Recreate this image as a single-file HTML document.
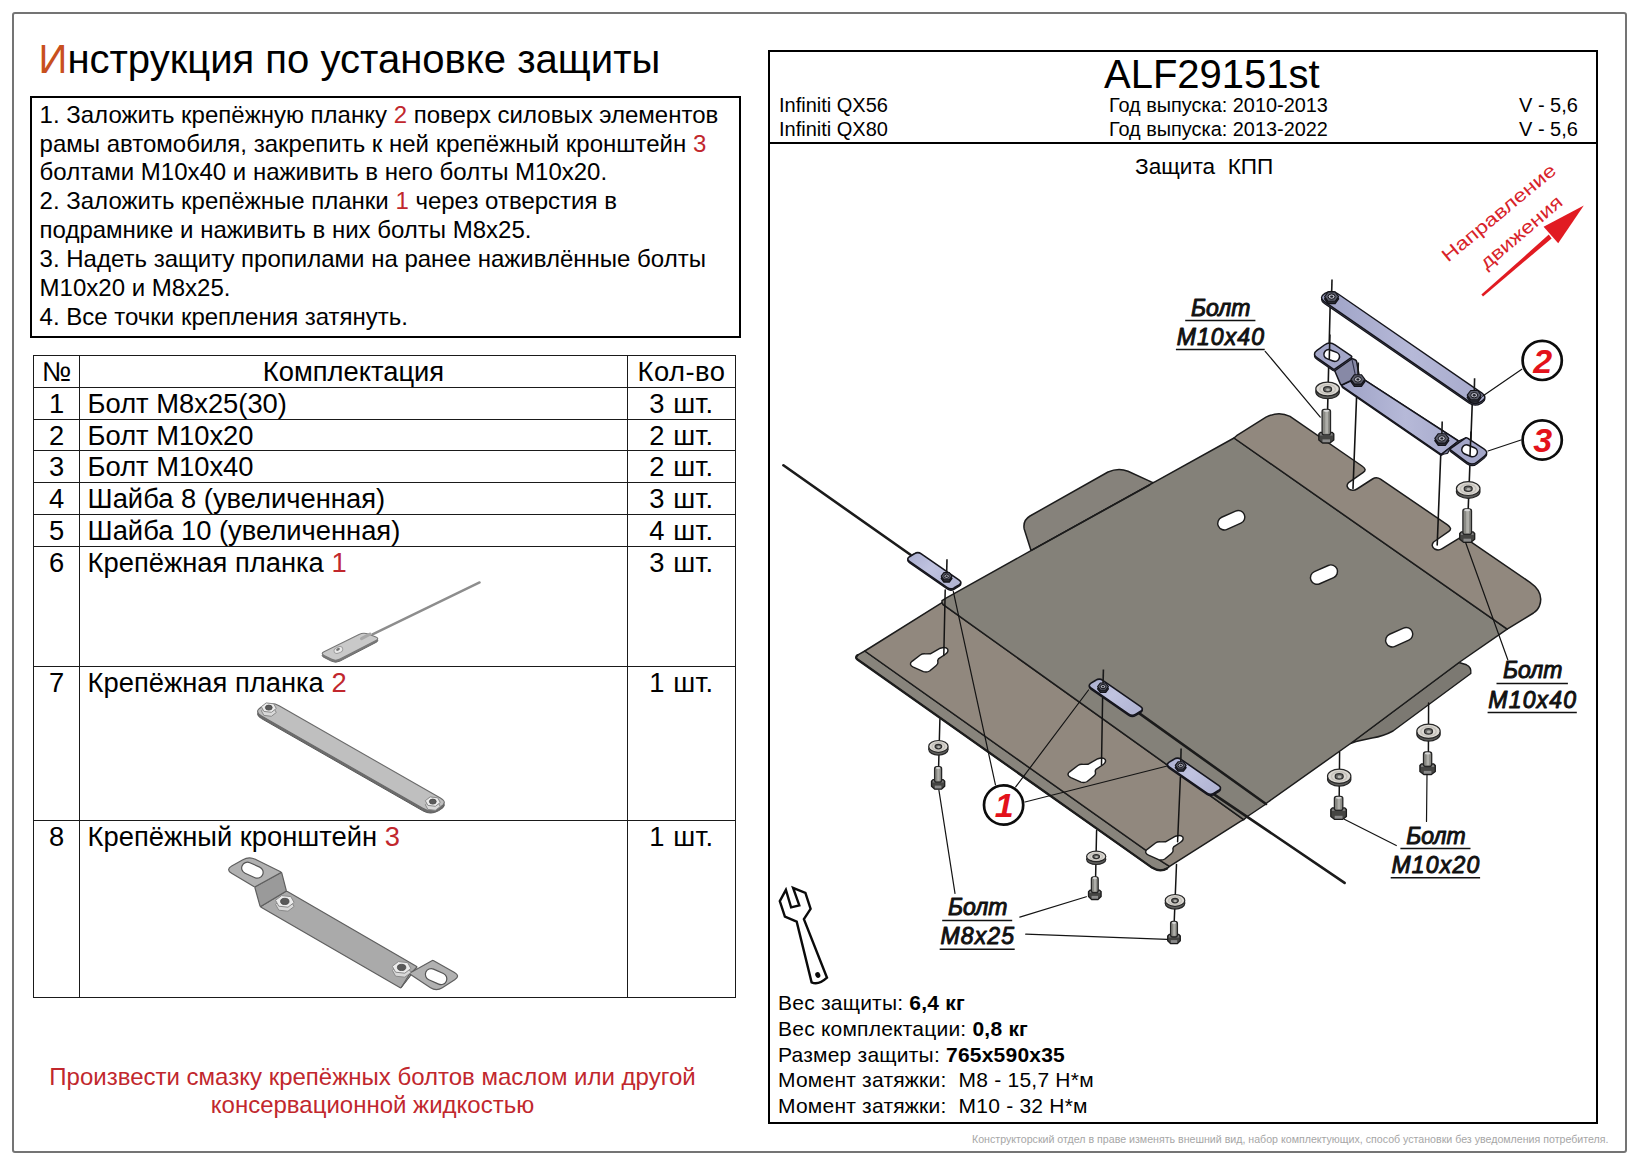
<!DOCTYPE html>
<html lang="ru">
<head>
<meta charset="utf-8">
<title>Инструкция по установке защиты ALF29151st</title>
<style>
html,body{margin:0;padding:0;background:#fff;}
body{width:1642px;height:1168px;position:relative;overflow:hidden;font-family:"Liberation Sans",Arial,sans-serif;color:#000;}
.abs{position:absolute;white-space:pre;}
#frame{position:absolute;left:12px;top:12px;width:1615px;height:1141px;border:2px solid #747474;border-radius:3px;box-sizing:border-box;}
#title{left:38.6px;top:36.4px;font-size:40.05px;line-height:46px;}
#title b{font-weight:normal;color:#c8501e;}
#instr{position:absolute;left:30px;top:96px;width:710.5px;height:242px;border:2px solid #000;box-sizing:border-box;}
#instr p{margin:0;position:absolute;left:7.6px;top:2.6px;font-size:24px;line-height:28.9px;white-space:pre;}
.red{color:#c1272d;}
table#kit{position:absolute;left:33px;top:355px;border-collapse:collapse;table-layout:fixed;width:702px;font-size:27.35px;}
#kit td{border:1px solid #1a1a1a;padding:1.1px 0 0 0;vertical-align:top;line-height:29.65px;height:29.65px;white-space:pre;}
#kit td.n{text-align:center;}
#kit td.q{text-align:center;letter-spacing:0.5px;}
#kit td.d{padding-left:7.6px;}
#note{left:0;width:745px;top:1063px;text-align:center;font-size:24px;line-height:28px;color:#c1272d;}
#rp{position:absolute;left:768px;top:50px;width:830px;height:1074px;border:2px solid #000;box-sizing:border-box;}
#rph{position:absolute;left:768px;top:142px;width:830px;height:2px;background:#000;}
#foot{left:972px;top:1131.6px;font-size:10.63px;line-height:14px;color:#a6a6a6;}
svg{position:absolute;left:0;top:0;}
</style>
</head>
<body>
<div id="frame"></div>
<div id="title" class="abs"><b>И</b>нструкция по установке защиты</div>
<div id="instr"><p>1. Заложить крепёжную планку <span class="red">2</span> поверх силовых элементов
рамы автомобиля, закрепить к ней крепёжный кронштейн <span class="red">3</span>
болтами М10х40 и наживить в него болты М10х20.
2. Заложить крепёжные планки <span class="red">1</span> через отверстия в
подрамнике и наживить в них болты М8х25.
3. Надеть защиту пропилами на ранее наживлённые болты
М10х20 и М8х25.
4. Все точки крепления затянуть.</p></div>

<table id="kit">
<colgroup><col style="width:46px"><col style="width:548px"><col style="width:108px"></colgroup>
<tr><td class="n">№</td><td style="text-align:center">Комплектация</td><td class="q">Кол-во</td></tr>
<tr><td class="n">1</td><td class="d">Болт М8х25(30)</td><td class="q">3 шт.</td></tr>
<tr><td class="n">2</td><td class="d">Болт М10х20</td><td class="q">2 шт.</td></tr>
<tr><td class="n">3</td><td class="d">Болт М10х40</td><td class="q">2 шт.</td></tr>
<tr><td class="n">4</td><td class="d">Шайба 8 (увеличенная)</td><td class="q">3 шт.</td></tr>
<tr><td class="n">5</td><td class="d">Шайба 10 (увеличенная)</td><td class="q">4 шт.</td></tr>
<tr style="height:120.5px"><td class="n">6</td><td class="d">Крепёжная планка <span class="red">1</span></td><td class="q">3 шт.</td></tr>
<tr style="height:153.6px"><td class="n">7</td><td class="d">Крепёжная планка <span class="red">2</span></td><td class="q">1 шт.</td></tr>
<tr style="height:177.3px"><td class="n">8</td><td class="d">Крепёжный кронштейн <span class="red">3</span></td><td class="q">1 шт.</td></tr>
</table>

<div id="note" class="abs">Произвести смазку крепёжных болтов маслом или другой
консервационной жидкостью</div>

<div id="rp"></div><div id="rph"></div>
<div class="abs" style="left:1104px;top:51px;font-size:40px;line-height:46px;">ALF29151st</div>
<div class="abs" style="left:779px;top:93px;font-size:20px;line-height:24.2px;">Infiniti QX56
Infiniti QX80</div>
<div class="abs" style="left:1109px;top:93px;font-size:19.9px;line-height:24.2px;">Год выпуска: 2010-2013
Год выпуска: 2013-2022</div>
<div class="abs" style="left:1519px;top:93px;font-size:20px;line-height:24.2px;">V - 5,6
V - 5,6</div>
<div class="abs" style="left:1135px;top:153.6px;font-size:22.6px;line-height:26px;">Защита  КПП</div>

<div class="abs" style="left:778px;top:990.4px;font-size:21px;line-height:25.6px;letter-spacing:0.22px;">Вес защиты: <b>6,4 кг</b>
Вес комплектации: <b>0,8 кг</b>
Размер защиты: <b>765х590х35</b>
Момент затяжки:  М8 - 15,7 Н*м
Момент затяжки:  М10 - 32 Н*м</div>

<div id="foot" class="abs">Конструкторский отдел в праве изменять внешний вид, набор комплектующих, способ установки без уведомления потребителя.</div>

<svg id="draw" width="1642" height="1168" viewBox="0 0 1642 1168">
<path d="M1031,550.6 L1024.2,529 Q1022.6,520.5 1030,516 L1108,472 Q1118.5,467.5 1128,471.3 L1148.5,480.6 Q1152.5,482.6 1153.5,482.6 Z" fill="#86827b" stroke="#1c1c1c" stroke-width="1.5" stroke-linejoin="round"/>
<path d="M1459,662.5 L1466.5,664.8 Q1471.5,666.8 1470.8,673.5 L1393,731 Q1384,736 1372,738 L1356,741.5 L1350.5,743.5 Z" fill="#7c7972" stroke="#1c1c1c" stroke-width="1.45" stroke-linejoin="round"/>
<path d="M864.8,651 L857.5,655.2 Q854.8,657.5 857.5,659.5 L1152,867.6 Q1160,872.6 1167,868.5 L1169.5,866.4 L1161.5,861.2 Z" fill="#88847c" stroke="#1c1c1c" stroke-width="1.5" stroke-linejoin="round"/>
<path d="M857.5,655.2 Q854.8,657.5 857.5,659.5 L1152,867.6 Q1160,872.6 1167,868.5" fill="none" stroke="#1c1c1c" stroke-width="2.3" stroke-linecap="round"/>
<polygon points="864.8,651.0 942.0,602.6 943.2,604.7 1243.7,819.6 1240.4,821.4 1169.5,866.4 1161.5,861.4" fill="#91887e" stroke="#1c1c1c" stroke-width="1.5" stroke-linejoin="round"/>
<polygon points="942.0,602.6 942.0,600.6 946.0,598.2 1031.0,550.6 1153.5,482.6 1234.0,438.0 1507.2,629.2 1459.0,662.5 1350.5,743.5 1266.7,803.0 1264.5,805.0 1248.1,816.0 1243.7,819.6 943.2,604.7" fill="#848179" stroke="#1c1c1c" stroke-width="1.5" stroke-linejoin="round"/>
<path d="M1234,438 L1236.6,435.7 L1266,417.2 Q1278.5,410.8 1290,416.4 L1362,466.0 Q1367.4,469.6 1363.3,472.4 L1348.6,482.6 Q1345.2,486.4 1349.4,489.4 Q1353.2,491.4 1357,489 L1372.5,479 Q1376.5,476.4 1380.5,479.2 L1447.5,524.8 Q1452.8,528.6 1448.8,531.4 L1433.6,542 Q1430.4,545.8 1434.6,549 Q1438.4,551 1442.2,548.6 L1458.5,538.6 Q1462.5,536 1466.5,538.8 L1530,582.4 Q1544.5,592.5 1539.4,606 Q1538,610 1533.5,613 L1507.2,629.2 Z" fill="#91887e" stroke="#1c1c1c" stroke-width="1.5" stroke-linejoin="round"/>
<line x1="1031" y1="550.6" x2="1150" y2="484.8" stroke="#1c1c1c" stroke-width="1.45"/>
<rect x="1217.1" y="513.6" width="28.4" height="13.2" rx="6.6" transform="rotate(-24 1231.3 520.2)" fill="#fff" stroke="#1c1c1c" stroke-width="1.45"/>
<rect x="1309.8" y="568.0" width="28.4" height="13.2" rx="6.6" transform="rotate(-24 1324 574.6)" fill="#fff" stroke="#1c1c1c" stroke-width="1.45"/>
<rect x="1385.0" y="630.6" width="28.4" height="13.2" rx="6.6" transform="rotate(-24 1399.2 637.2)" fill="#fff" stroke="#1c1c1c" stroke-width="1.45"/>
<path transform="translate(0.0 0.0)" d="M912,661.3 L920.3,655 Q922.5,653.5 925.5,653.9 L930.3,653.8 L940.3,648.2 Q945.6,646.2 947.7,649.2 Q948.8,652 945,654.5 L938.4,658.9 Q937.3,660 937.9,662.4 Q938.2,664 936,665.8 L929.6,671 Q927,672.7 923.4,671.6 L913.3,667.2 Q908.3,664.4 912,661.3 Z" fill="#fff" stroke="#1c1c1c" stroke-width="1.45" stroke-linejoin="round"/>
<path transform="translate(157.6 110.5)" d="M912,661.3 L920.3,655 Q922.5,653.5 925.5,653.9 L930.3,653.8 L940.3,648.2 Q945.6,646.2 947.7,649.2 Q948.8,652 945,654.5 L938.4,658.9 Q937.3,660 937.9,662.4 Q938.2,664 936,665.8 L929.6,671 Q927,672.7 923.4,671.6 L913.3,667.2 Q908.3,664.4 912,661.3 Z" fill="#fff" stroke="#1c1c1c" stroke-width="1.45" stroke-linejoin="round"/>
<path transform="translate(235.2 188.0)" d="M912,661.3 L920.3,655 Q922.5,653.5 925.5,653.9 L930.3,653.8 L940.3,648.2 Q945.6,646.2 947.7,649.2 Q948.8,652 945,654.5 L938.4,658.9 Q937.3,660 937.9,662.4 Q938.2,664 936,665.8 L929.6,671 Q927,672.7 923.4,671.6 L913.3,667.2 Q908.3,664.4 912,661.3 Z" fill="#fff" stroke="#1c1c1c" stroke-width="1.45" stroke-linejoin="round"/>
<defs><linearGradient id="gblue" x1="0" y1="0" x2="1" y2="0.6"><stop offset="0" stop-color="#aaaed0"/><stop offset="0.5" stop-color="#c0c3e0"/><stop offset="1" stop-color="#b2b5d4"/></linearGradient><linearGradient id="gstrap" x1="0" y1="0" x2="1" y2="0"><stop offset="0" stop-color="#9ea2c6"/><stop offset="0.55" stop-color="#b6b9d8"/><stop offset="1" stop-color="#a6a9cb"/></linearGradient></defs>
<line x1="783.4" y1="465.3" x2="910.5" y2="554.8" stroke="#1b1b1b" stroke-width="2.6" stroke-linecap="round"/>
<line x1="1139.7" y1="713.6" x2="1266" y2="804" stroke="#1b1b1b" stroke-width="2.6" stroke-linecap="round"/>
<line x1="1214" y1="794.3" x2="1344.6" y2="882.9" stroke="#1b1b1b" stroke-width="2.6" stroke-linecap="round"/>
<path d="M909.4,562.7 Q906.0,560.3 909.5,558.0 L914.3,555.1 Q917.9,552.8 921.3,555.2 L959.2,581.5 Q962.6,583.9 959.1,586.2 L954.3,589.1 Q950.7,591.4 947.3,589.0 Z" fill="#555873" stroke="#15151c" stroke-width="1.3"/><path d="M909.4,561.4 Q906.0,559.0 909.5,556.7 L914.3,553.8 Q917.9,551.5 921.3,553.9 L959.2,580.2 Q962.6,582.6 959.1,584.9 L954.3,587.8 Q950.7,590.1 947.3,587.7 Z" fill="url(#gblue)" stroke="#15151c" stroke-width="1.6"/>
<path d="M1090.9,689.1 Q1087.5,686.7 1091.0,684.4 L1095.8,681.5 Q1099.4,679.2 1102.8,681.6 L1140.7,707.9 Q1144.1,710.3 1140.6,712.6 L1135.8,715.5 Q1132.2,717.8 1128.8,715.4 Z" fill="#555873" stroke="#15151c" stroke-width="1.3"/><path d="M1090.9,687.8 Q1087.5,685.4 1091.0,683.1 L1095.8,680.2 Q1099.4,677.9 1102.8,680.3 L1140.7,706.6 Q1144.1,709.0 1140.6,711.3 L1135.8,714.2 Q1132.2,716.5 1128.8,714.1 Z" fill="url(#gblue)" stroke="#15151c" stroke-width="1.6"/>
<path d="M1169.1,768.1 Q1165.7,765.7 1169.2,763.4 L1174.0,760.5 Q1177.6,758.2 1181.0,760.6 L1218.9,786.9 Q1222.3,789.3 1218.8,791.6 L1214.0,794.5 Q1210.4,796.8 1207.0,794.4 Z" fill="#555873" stroke="#15151c" stroke-width="1.3"/><path d="M1169.1,766.8 Q1165.7,764.4 1169.2,762.1 L1174.0,759.2 Q1177.6,756.9 1181.0,759.3 L1218.9,785.6 Q1222.3,788.0 1218.8,790.3 L1214.0,793.2 Q1210.4,795.5 1207.0,793.1 Z" fill="url(#gblue)" stroke="#15151c" stroke-width="1.6"/>
<line x1="945.2" y1="590" x2="943.8" y2="655.5" stroke="#141414" stroke-width="1.5" stroke-linecap="round"/>
<line x1="1102.6" y1="698" x2="1101.5" y2="765" stroke="#141414" stroke-width="1.5" stroke-linecap="round"/>
<line x1="1180.4" y1="777" x2="1177.6" y2="841.8" stroke="#141414" stroke-width="1.5" stroke-linecap="round"/>
<g><line x1="947.0" y1="559.2" x2="946.6" y2="575.2" stroke="#1a1a1a" stroke-width="1.6"/><polygon points="952.0,578.4 949.3,582.0 943.9,582.0 941.2,578.4 943.9,574.8 949.3,574.8" fill="#30323c" stroke="#14141a" stroke-width="1.3" stroke-linejoin="round"/><polygon points="952.0,576.2 949.3,579.8 943.9,579.8 941.2,576.2 943.9,572.6 949.3,572.6" fill="#5b5d6b" stroke="#14141a" stroke-width="1.1" stroke-linejoin="round"/><ellipse cx="946.6" cy="576.2" rx="2.7" ry="2.1" fill="#b9bac6" stroke="#14141a" stroke-width="1"/><ellipse cx="946.6" cy="576.2" rx="1.2" ry="0.9" fill="#22232b"/></g>
<g><line x1="1103.4" y1="669.6" x2="1103.0" y2="685.6" stroke="#1a1a1a" stroke-width="1.6"/><polygon points="1108.4,688.8 1105.7,692.4 1100.3,692.4 1097.6,688.8 1100.3,685.2 1105.7,685.2" fill="#30323c" stroke="#14141a" stroke-width="1.3" stroke-linejoin="round"/><polygon points="1108.4,686.6 1105.7,690.2 1100.3,690.2 1097.6,686.6 1100.3,683.0 1105.7,683.0" fill="#5b5d6b" stroke="#14141a" stroke-width="1.1" stroke-linejoin="round"/><ellipse cx="1103" cy="686.6" rx="2.7" ry="2.1" fill="#b9bac6" stroke="#14141a" stroke-width="1"/><ellipse cx="1103" cy="686.6" rx="1.2" ry="0.9" fill="#22232b"/></g>
<g><line x1="1181.1" y1="748.4" x2="1180.7" y2="764.4" stroke="#1a1a1a" stroke-width="1.6"/><polygon points="1186.1,767.6 1183.4,771.2 1178.0,771.2 1175.3,767.6 1178.0,764.0 1183.4,764.0" fill="#30323c" stroke="#14141a" stroke-width="1.3" stroke-linejoin="round"/><polygon points="1186.1,765.4 1183.4,769.0 1178.0,769.0 1175.3,765.4 1178.0,761.8 1183.4,761.8" fill="#5b5d6b" stroke="#14141a" stroke-width="1.1" stroke-linejoin="round"/><ellipse cx="1180.7" cy="765.4" rx="2.7" ry="2.1" fill="#b9bac6" stroke="#14141a" stroke-width="1"/><ellipse cx="1180.7" cy="765.4" rx="1.2" ry="0.9" fill="#22232b"/></g>
<line x1="1330.2" y1="304" x2="1327.6" y2="409.5" stroke="#141414" stroke-width="1.6" stroke-linecap="round"/>
<line x1="1472.2" y1="405" x2="1468.2" y2="509" stroke="#141414" stroke-width="1.6" stroke-linecap="round"/>
<line x1="1357" y1="386" x2="1353" y2="488.5" stroke="#141414" stroke-width="1.6" stroke-linecap="round"/>
<line x1="1440.8" y1="453" x2="1437.2" y2="545" stroke="#141414" stroke-width="1.6" stroke-linecap="round"/>
<path d="M1324.4,303.4 Q1318.5,299.3 1324.6,295.5 L1325.4,295.0 Q1331.5,291.2 1337.5,295.3 L1482.0,395.0 Q1487.9,399.1 1481.8,402.9 L1481.0,403.4 Q1474.9,407.2 1468.9,403.1 Z" fill="#5a5d78" stroke="#15151c" stroke-width="1.2"/>
<path d="M1324.4,301.6 Q1318.5,297.5 1324.6,293.7 L1325.4,293.2 Q1331.5,289.4 1337.5,293.5 L1482.0,393.2 Q1487.9,397.3 1481.8,401.1 L1481.0,401.6 Q1474.9,405.4 1468.9,401.3 Z" fill="url(#gstrap)" stroke="#15151c" stroke-width="1.4"/>
<g><line x1="1332.0" y1="279.6" x2="1331.6" y2="295.6" stroke="#1a1a1a" stroke-width="1.6"/><polygon points="1338.6,298.8 1335.1,303.5 1328.1,303.5 1324.6,298.8 1328.1,294.1 1335.1,294.1" fill="#30323c" stroke="#14141a" stroke-width="1.3" stroke-linejoin="round"/><polygon points="1338.6,296.6 1335.1,301.3 1328.1,301.3 1324.6,296.6 1328.1,291.9 1335.1,291.9" fill="#5b5d6b" stroke="#14141a" stroke-width="1.1" stroke-linejoin="round"/><ellipse cx="1331.6" cy="296.6" rx="3.5" ry="2.7" fill="#b9bac6" stroke="#14141a" stroke-width="1"/><ellipse cx="1331.6" cy="296.6" rx="1.5" ry="1.2" fill="#22232b"/></g>
<g><line x1="1474.6" y1="378.2" x2="1474.2" y2="394.2" stroke="#1a1a1a" stroke-width="1.6"/><polygon points="1481.2,397.4 1477.7,402.1 1470.7,402.1 1467.2,397.4 1470.7,392.7 1477.7,392.7" fill="#30323c" stroke="#14141a" stroke-width="1.3" stroke-linejoin="round"/><polygon points="1481.2,395.2 1477.7,399.9 1470.7,399.9 1467.2,395.2 1470.7,390.5 1477.7,390.5" fill="#5b5d6b" stroke="#14141a" stroke-width="1.1" stroke-linejoin="round"/><ellipse cx="1474.2" cy="395.2" rx="3.5" ry="2.7" fill="#b9bac6" stroke="#14141a" stroke-width="1"/><ellipse cx="1474.2" cy="395.2" rx="1.5" ry="1.2" fill="#22232b"/></g>
<path d="M1342.4,387.4 Q1341.6,386.8 1342.5,386.3 L1358.5,377.1 Q1359.4,376.6 1360.2,377.1 L1457.8,440.5 Q1458.6,441.0 1457.8,441.6 L1442.0,455.0 Q1441.2,455.6 1440.4,455.0 Z" fill="#5a5d78" stroke="#15151c" stroke-width="1.2" stroke-linejoin="round"/>
<path d="M1341.8,386.0 Q1341.0,385.4 1341.9,385.0 L1358.5,377.0 Q1359.4,376.6 1360.2,377.1 L1457.8,440.5 Q1458.6,441.0 1457.8,441.6 L1442.0,453.8 Q1441.2,454.4 1440.4,453.8 Z" fill="url(#gstrap)" stroke="#15151c" stroke-width="1.5" stroke-linejoin="round"/>
<path d="M1334.6,370.5 Q1334.2,369.6 1335.0,369.1 L1350.5,359.2 Q1351.8,358.4 1353.2,359.0 L1355.0,359.8 Q1356.4,360.4 1356.7,361.9 L1359.2,375.6 Q1359.4,376.6 1358.5,377.0 L1342.8,384.5 Q1341.0,385.4 1340.2,383.6 Z" fill="#8789a6" stroke="#15151c" stroke-width="1.5" stroke-linejoin="round"/>
<line x1="1351.8" y1="358.6" x2="1355.4" y2="375.4" stroke="#30324a" stroke-width="1.1" stroke-linecap="round"/>
<path d="M1317.2,359.6 Q1311.8,355.9 1317.0,352.1 L1324.4,346.7 Q1329.6,342.9 1335.0,346.5 L1351.2,357.5 Q1352.4,358.3 1351.2,359.2 L1335.4,370.4 Q1334.2,371.3 1333.0,370.5 Z" fill="#5a5d78" stroke="#15151c" stroke-width="1.2"/>
<path d="M1317.2,357.9 Q1311.8,354.2 1317.0,350.4 L1324.4,345.0 Q1329.6,341.2 1335.0,344.8 L1351.2,355.8 Q1352.4,356.6 1351.2,357.5 L1335.4,368.7 Q1334.2,369.6 1333.0,368.8 Z" fill="#a3a6c8" stroke="#15151c" stroke-width="1.5"/>
<rect x="1323.7" y="350.8" width="16" height="9.4" rx="4.7" transform="rotate(22 1331.7 355.5)" fill="#fff" stroke="#15151c" stroke-width="1.6"/>
<path d="M1441.7,454.5 Q1441.2,454.6 1441.6,454.3 L1458.2,441.3 Q1458.6,441.0 1459.1,440.8 L1465.7,437.8 Q1466.2,437.6 1465.8,437.9 L1450.0,449.3 Q1449.6,449.6 1449.4,450.0 L1447.8,453.0 Q1447.6,453.4 1447.1,453.5 Z" fill="#7f82a0" stroke="#15151c" stroke-width="1.2" stroke-linejoin="round"/>
<path d="M1450.8,451.8 Q1449.6,450.9 1450.8,450.0 L1465.0,440.0 Q1466.2,439.1 1467.5,439.9 L1483.9,450.6 Q1489.4,454.1 1484.3,458.1 L1477.1,463.7 Q1472.0,467.7 1466.8,463.8 Z" fill="#5a5d78" stroke="#15151c" stroke-width="1.2"/>
<path d="M1450.8,450.1 Q1449.6,449.2 1450.8,448.3 L1465.0,438.3 Q1466.2,437.4 1467.5,438.2 L1483.9,448.9 Q1489.4,452.4 1484.3,456.4 L1477.1,462.0 Q1472.0,466.0 1466.8,462.1 Z" fill="#a3a6c8" stroke="#15151c" stroke-width="1.5"/>
<rect x="1461.6" y="446.1" width="16" height="9.4" rx="4.7" transform="rotate(22 1469.6 450.8)" fill="#fff" stroke="#15151c" stroke-width="1.6"/>
<line x1="1329.9" y1="335" x2="1329.3" y2="358.4" stroke="#141414" stroke-width="1.6" stroke-linecap="round"/>
<line x1="1471.0" y1="432" x2="1470.0" y2="455.6" stroke="#141414" stroke-width="1.6" stroke-linecap="round"/>
<g><line x1="1358.3" y1="362.4" x2="1357.9" y2="378.4" stroke="#1a1a1a" stroke-width="1.6"/><polygon points="1364.9,381.6 1361.4,386.3 1354.4,386.3 1350.9,381.6 1354.4,376.9 1361.4,376.9" fill="#30323c" stroke="#14141a" stroke-width="1.3" stroke-linejoin="round"/><polygon points="1364.9,379.4 1361.4,384.1 1354.4,384.1 1350.9,379.4 1354.4,374.7 1361.4,374.7" fill="#5b5d6b" stroke="#14141a" stroke-width="1.1" stroke-linejoin="round"/><ellipse cx="1357.9" cy="379.4" rx="3.5" ry="2.7" fill="#b9bac6" stroke="#14141a" stroke-width="1"/><ellipse cx="1357.9" cy="379.4" rx="1.5" ry="1.2" fill="#22232b"/></g>
<g><line x1="1442.2" y1="421.4" x2="1441.8" y2="437.4" stroke="#1a1a1a" stroke-width="1.6"/><polygon points="1448.8,440.6 1445.3,445.3 1438.3,445.3 1434.8,440.6 1438.3,435.9 1445.3,435.9" fill="#30323c" stroke="#14141a" stroke-width="1.3" stroke-linejoin="round"/><polygon points="1448.8,438.4 1445.3,443.1 1438.3,443.1 1434.8,438.4 1438.3,433.7 1445.3,433.7" fill="#5b5d6b" stroke="#14141a" stroke-width="1.1" stroke-linejoin="round"/><ellipse cx="1441.8" cy="438.4" rx="3.5" ry="2.7" fill="#b9bac6" stroke="#14141a" stroke-width="1"/><ellipse cx="1441.8" cy="438.4" rx="1.5" ry="1.2" fill="#22232b"/></g>
<g><ellipse cx="1327.6" cy="391.8" rx="11.8" ry="6.9" fill="#5e5e5c" stroke="#262626" stroke-width="1.2"/><ellipse cx="1327.6" cy="389.0" rx="11.8" ry="6.9" fill="#dcd9d3" stroke="#262626" stroke-width="1.2"/><ellipse cx="1327.6" cy="389.2" rx="7.8" ry="4.6" fill="none" stroke="#c4c1bb" stroke-width="1.4"/><ellipse cx="1327.6" cy="389.2" rx="4.0" ry="2.6" fill="#6c6c6a" stroke="#2e2e2e" stroke-width="1.2"/><ellipse cx="1327.9" cy="389.7" rx="1.9" ry="1.2" fill="#b5b5b0"/></g>
<g><path d="M1318.8,433.9 L1320.3,432.4 L1332.3,432.4 L1333.8,433.9 L1333.8,440.0 L1330.0,443.0 L1322.5,443.0 L1318.8,440.0 Z" fill="#454543" stroke="#1c1c1c" stroke-width="1.3" stroke-linejoin="round"/><path d="M1320.3,433.2 L1332.3,433.2 L1332.8,435.4 L1319.8,435.4 Z" fill="#7d7d7d"/><path d="M1322.5,439.4 L1330.0,439.4 L1330.0,442.2 L1322.5,442.2 Z" fill="#8a8a8a"/><rect x="1322.1" y="409.4" width="8.4" height="25.5" rx="2.2" fill="#8a8a85" stroke="#262626" stroke-width="1.3"/><rect x="1325.3" y="410.6" width="2.7" height="23.0" fill="#aeaea9"/><ellipse cx="1326.3" cy="410.8" rx="3.0" ry="1.1" fill="#d8d8d8"/></g>
<g><ellipse cx="1468.2" cy="491.4" rx="11.8" ry="6.9" fill="#5e5e5c" stroke="#262626" stroke-width="1.2"/><ellipse cx="1468.2" cy="488.6" rx="11.8" ry="6.9" fill="#dcd9d3" stroke="#262626" stroke-width="1.2"/><ellipse cx="1468.2" cy="488.8" rx="7.8" ry="4.6" fill="none" stroke="#c4c1bb" stroke-width="1.4"/><ellipse cx="1468.2" cy="488.8" rx="4.0" ry="2.6" fill="#6c6c6a" stroke="#2e2e2e" stroke-width="1.2"/><ellipse cx="1468.5" cy="489.3" rx="1.9" ry="1.2" fill="#b5b5b0"/></g>
<g><path d="M1459.7,533.4 L1461.2,531.9 L1473.2,531.9 L1474.7,533.4 L1474.7,539.3 L1471.0,542.3 L1463.5,542.3 L1459.7,539.3 Z" fill="#454543" stroke="#1c1c1c" stroke-width="1.3" stroke-linejoin="round"/><path d="M1461.2,532.7 L1473.2,532.7 L1473.7,534.9 L1460.7,534.9 Z" fill="#7d7d7d"/><path d="M1463.5,538.7 L1471.0,538.7 L1471.0,541.5 L1463.5,541.5 Z" fill="#8a8a8a"/><rect x="1462.9" y="508.8" width="8.6" height="25.6" rx="2.2" fill="#8a8a85" stroke="#262626" stroke-width="1.3"/><rect x="1466.2" y="510.0" width="2.8" height="23.1" fill="#aeaea9"/><ellipse cx="1467.2" cy="510.2" rx="3.1" ry="1.1" fill="#d8d8d8"/></g>
<line x1="1428.6" y1="703" x2="1428.4" y2="752" stroke="#141414" stroke-width="1.5" stroke-linecap="round"/>
<g><ellipse cx="1428.5" cy="734.0" rx="11.7" ry="7.1" fill="#5e5e5c" stroke="#262626" stroke-width="1.2"/><ellipse cx="1428.5" cy="731.2" rx="11.7" ry="7.1" fill="#dcd9d3" stroke="#262626" stroke-width="1.2"/><ellipse cx="1428.5" cy="731.4" rx="7.7" ry="4.7" fill="none" stroke="#c4c1bb" stroke-width="1.4"/><ellipse cx="1428.5" cy="731.4" rx="4.0" ry="2.7" fill="#6c6c6a" stroke="#2e2e2e" stroke-width="1.2"/><ellipse cx="1428.8" cy="731.9" rx="1.9" ry="1.3" fill="#b5b5b0"/></g>
<g><path d="M1419.9,765.5 L1421.4,764.0 L1433.8,764.0 L1435.3,765.5 L1435.3,771.5 L1431.4,774.5 L1423.8,774.5 L1419.9,771.5 Z" fill="#454543" stroke="#1c1c1c" stroke-width="1.3" stroke-linejoin="round"/><path d="M1421.4,764.8 L1433.8,764.8 L1434.3,767.0 L1420.9,767.0 Z" fill="#7d7d7d"/><path d="M1423.8,770.9 L1431.4,770.9 L1431.4,773.7 L1423.8,773.7 Z" fill="#8a8a8a"/><rect x="1423.5" y="752.0" width="8.2" height="14.5" rx="2.2" fill="#8a8a85" stroke="#262626" stroke-width="1.3"/><rect x="1426.6" y="753.2" width="2.6" height="12.0" fill="#aeaea9"/><ellipse cx="1427.6" cy="753.4" rx="2.9" ry="1.1" fill="#d8d8d8"/></g>
<line x1="1339.6" y1="752" x2="1339.2" y2="797" stroke="#141414" stroke-width="1.5" stroke-linecap="round"/>
<g><ellipse cx="1339.2" cy="779.0" rx="11.7" ry="7.1" fill="#5e5e5c" stroke="#262626" stroke-width="1.2"/><ellipse cx="1339.2" cy="776.2" rx="11.7" ry="7.1" fill="#dcd9d3" stroke="#262626" stroke-width="1.2"/><ellipse cx="1339.2" cy="776.4" rx="7.7" ry="4.7" fill="none" stroke="#c4c1bb" stroke-width="1.4"/><ellipse cx="1339.2" cy="776.4" rx="4.0" ry="2.7" fill="#6c6c6a" stroke="#2e2e2e" stroke-width="1.2"/><ellipse cx="1339.5" cy="776.9" rx="1.9" ry="1.3" fill="#b5b5b0"/></g>
<g><path d="M1330.8,809.4 L1332.3,807.9 L1344.9,807.9 L1346.4,809.4 L1346.4,816.4 L1342.5,819.4 L1334.7,819.4 L1330.8,816.4 Z" fill="#454543" stroke="#1c1c1c" stroke-width="1.3" stroke-linejoin="round"/><path d="M1332.3,808.7 L1344.9,808.7 L1345.4,810.9 L1331.8,810.9 Z" fill="#7d7d7d"/><path d="M1334.7,815.8 L1342.5,815.8 L1342.5,818.6 L1334.7,818.6 Z" fill="#8a8a8a"/><rect x="1334.4" y="796.4" width="8.4" height="14.0" rx="2.2" fill="#8a8a85" stroke="#262626" stroke-width="1.3"/><rect x="1337.6" y="797.6" width="2.7" height="11.5" fill="#aeaea9"/><ellipse cx="1338.6" cy="797.8" rx="3.0" ry="1.1" fill="#d8d8d8"/></g>
<line x1="939.9" y1="719.5" x2="938.6" y2="767" stroke="#141414" stroke-width="1.5" stroke-linecap="round"/>
<g><ellipse cx="938.4" cy="749.2" rx="9.7" ry="5.9" fill="#5e5e5c" stroke="#262626" stroke-width="1.2"/><ellipse cx="938.4" cy="746.4" rx="9.7" ry="5.9" fill="#dcd9d3" stroke="#262626" stroke-width="1.2"/><ellipse cx="938.4" cy="746.6" rx="6.4" ry="3.9" fill="none" stroke="#c4c1bb" stroke-width="1.4"/><ellipse cx="938.4" cy="746.6" rx="3.3" ry="2.2" fill="#6c6c6a" stroke="#2e2e2e" stroke-width="1.2"/><ellipse cx="938.7" cy="747.1" rx="1.6" ry="1.1" fill="#b5b5b0"/></g>
<g><path d="M931.5,781.1 L933.0,779.6 L943.2,779.6 L944.7,781.1 L944.7,786.2 L941.4,789.2 L934.8,789.2 L931.5,786.2 Z" fill="#454543" stroke="#1c1c1c" stroke-width="1.3" stroke-linejoin="round"/><path d="M933.0,780.4 L943.2,780.4 L943.7,782.6 L932.5,782.6 Z" fill="#7d7d7d"/><path d="M934.8,785.6 L941.4,785.6 L941.4,788.4 L934.8,788.4 Z" fill="#8a8a8a"/><rect x="934.6" y="766.6" width="7.0" height="15.5" rx="2.2" fill="#8a8a85" stroke="#262626" stroke-width="1.3"/><rect x="937.3" y="767.8" width="2.2" height="13.0" fill="#aeaea9"/><ellipse cx="938.1" cy="768.0" rx="2.3" ry="1.1" fill="#d8d8d8"/></g>
<line x1="1096.6" y1="830.6" x2="1095.6" y2="877" stroke="#141414" stroke-width="1.5" stroke-linecap="round"/>
<g><ellipse cx="1096.2" cy="859.2" rx="9.6" ry="5.3" fill="#5e5e5c" stroke="#262626" stroke-width="1.2"/><ellipse cx="1096.2" cy="856.4" rx="9.6" ry="5.3" fill="#dcd9d3" stroke="#262626" stroke-width="1.2"/><ellipse cx="1096.2" cy="856.6" rx="6.3" ry="3.5" fill="none" stroke="#c4c1bb" stroke-width="1.4"/><ellipse cx="1096.2" cy="856.6" rx="3.3" ry="2.0" fill="#6c6c6a" stroke="#2e2e2e" stroke-width="1.2"/><ellipse cx="1096.5" cy="857.1" rx="1.5" ry="1.0" fill="#b5b5b0"/></g>
<g><path d="M1088.5,891.6 L1090.0,890.1 L1099.6,890.1 L1101.1,891.6 L1101.1,896.5 L1098.0,899.5 L1091.6,899.5 L1088.5,896.5 Z" fill="#454543" stroke="#1c1c1c" stroke-width="1.3" stroke-linejoin="round"/><path d="M1090.0,890.9 L1099.6,890.9 L1100.1,893.1 L1089.5,893.1 Z" fill="#7d7d7d"/><path d="M1091.6,895.9 L1098.0,895.9 L1098.0,898.7 L1091.6,898.7 Z" fill="#8a8a8a"/><rect x="1091.4" y="876.8" width="6.8" height="15.8" rx="2.2" fill="#8a8a85" stroke="#262626" stroke-width="1.3"/><rect x="1094.0" y="878.0" width="2.2" height="13.3" fill="#aeaea9"/><ellipse cx="1094.8" cy="878.2" rx="2.2" ry="1.1" fill="#d8d8d8"/></g>
<line x1="1176.5" y1="864.5" x2="1174.2" y2="922" stroke="#141414" stroke-width="1.5" stroke-linecap="round"/>
<g><ellipse cx="1175" cy="903.2" rx="9.8" ry="5.9" fill="#5e5e5c" stroke="#262626" stroke-width="1.2"/><ellipse cx="1175" cy="900.4" rx="9.8" ry="5.9" fill="#dcd9d3" stroke="#262626" stroke-width="1.2"/><ellipse cx="1175" cy="900.6" rx="6.5" ry="3.9" fill="none" stroke="#c4c1bb" stroke-width="1.4"/><ellipse cx="1175" cy="900.6" rx="3.3" ry="2.2" fill="#6c6c6a" stroke="#2e2e2e" stroke-width="1.2"/><ellipse cx="1175.3" cy="901.1" rx="1.6" ry="1.1" fill="#b5b5b0"/></g>
<g><path d="M1167.7,936.0 L1169.2,934.5 L1178.8,934.5 L1180.3,936.0 L1180.3,940.7 L1177.2,943.7 L1170.8,943.7 L1167.7,940.7 Z" fill="#454543" stroke="#1c1c1c" stroke-width="1.3" stroke-linejoin="round"/><path d="M1169.2,935.3 L1178.8,935.3 L1179.3,937.5 L1168.7,937.5 Z" fill="#7d7d7d"/><path d="M1170.8,940.1 L1177.2,940.1 L1177.2,942.9 L1170.8,942.9 Z" fill="#8a8a8a"/><rect x="1170.6" y="921.4" width="6.8" height="15.6" rx="2.2" fill="#8a8a85" stroke="#262626" stroke-width="1.3"/><rect x="1173.2" y="922.6" width="2.2" height="13.1" fill="#aeaea9"/><ellipse cx="1174" cy="922.8" rx="2.2" ry="1.1" fill="#d8d8d8"/></g>
<line x1="995.4" y1="784.7" x2="953.3" y2="591.3" stroke="#141414" stroke-width="1.2" stroke-linecap="round"/>
<line x1="1015.7" y1="786.9" x2="1088.5" y2="690" stroke="#141414" stroke-width="1.2" stroke-linecap="round"/>
<line x1="1025" y1="802" x2="1167.2" y2="766" stroke="#141414" stroke-width="1.2" stroke-linecap="round"/>
<line x1="1265.2" y1="351.3" x2="1320.3" y2="417.1" stroke="#141414" stroke-width="1.2" stroke-linecap="round"/>
<line x1="1465.6" y1="542.5" x2="1507.8" y2="659.7" stroke="#141414" stroke-width="1.2" stroke-linecap="round"/>
<line x1="1521.8" y1="369.3" x2="1482.5" y2="396.2" stroke="#141414" stroke-width="1.2" stroke-linecap="round"/>
<line x1="1521" y1="440" x2="1488" y2="451" stroke="#141414" stroke-width="1.2" stroke-linecap="round"/>
<line x1="1344.3" y1="819.2" x2="1396.3" y2="845.5" stroke="#141414" stroke-width="1.2" stroke-linecap="round"/>
<line x1="1427" y1="774.5" x2="1426.5" y2="821.4" stroke="#141414" stroke-width="1.2" stroke-linecap="round"/>
<line x1="938.9" y1="790.2" x2="955" y2="893.3" stroke="#141414" stroke-width="1.2" stroke-linecap="round"/>
<line x1="1019.8" y1="917.1" x2="1086.3" y2="896.7" stroke="#141414" stroke-width="1.2" stroke-linecap="round"/>
<line x1="1025.7" y1="934.2" x2="1167.3" y2="939.3" stroke="#141414" stroke-width="1.2" stroke-linecap="round"/>
<circle cx="1003.6" cy="805" r="19.6" fill="#fff" stroke="#0c0c0c" stroke-width="2.7"/><text x="1004.1" y="817.2" font-family="Liberation Sans, Arial, sans-serif" font-weight="bold" font-style="italic" font-size="34" text-anchor="middle" fill="#e3121b">1</text>
<circle cx="1542.2" cy="360.4" r="19.6" fill="#fff" stroke="#0c0c0c" stroke-width="2.7"/><text x="1542.7" y="372.59999999999997" font-family="Liberation Sans, Arial, sans-serif" font-weight="bold" font-style="italic" font-size="34" text-anchor="middle" fill="#e3121b">2</text>
<circle cx="1542.2" cy="440" r="19.6" fill="#fff" stroke="#0c0c0c" stroke-width="2.7"/><text x="1542.7" y="452.2" font-family="Liberation Sans, Arial, sans-serif" font-weight="bold" font-style="italic" font-size="34" text-anchor="middle" fill="#e3121b">3</text>
<g font-family="Liberation Sans, Arial, sans-serif" font-style="italic" font-size="23" text-anchor="middle" fill="#111" stroke="#111" stroke-width="0.95" stroke-linejoin="round"><text x="1220.8" y="315.6">Болт</text><text x="1220.3" y="344.7" textLength="87.3" lengthAdjust="spacing">М10х40</text></g><line x1="1185.2" y1="320.6" x2="1255.4" y2="320.6" stroke="#111" stroke-width="1.5"/><line x1="1175.9" y1="349.5" x2="1264.7" y2="349.5" stroke="#111" stroke-width="1.5"/>
<g font-family="Liberation Sans, Arial, sans-serif" font-style="italic" font-size="23" text-anchor="middle" fill="#111" stroke="#111" stroke-width="0.95" stroke-linejoin="round"><text x="1532.7" y="678.4">Болт</text><text x="1532.2" y="707.6" textLength="87.7" lengthAdjust="spacing">М10х40</text></g><line x1="1496.5" y1="683.4" x2="1567.9" y2="683.4" stroke="#111" stroke-width="1.5"/><line x1="1487.6" y1="712.4" x2="1576.8" y2="712.4" stroke="#111" stroke-width="1.5"/>
<g font-family="Liberation Sans, Arial, sans-serif" font-style="italic" font-size="23" text-anchor="middle" fill="#111" stroke="#111" stroke-width="0.95" stroke-linejoin="round"><text x="1435.9" y="843.6">Болт</text><text x="1435.4" y="872.9" textLength="87.9" lengthAdjust="spacing">М10х20</text></g><line x1="1400.4" y1="848.6" x2="1470.5" y2="848.6" stroke="#111" stroke-width="1.5"/><line x1="1390.7" y1="877.7" x2="1480.1" y2="877.7" stroke="#111" stroke-width="1.5"/>
<g font-family="Liberation Sans, Arial, sans-serif" font-style="italic" font-size="23" text-anchor="middle" fill="#111" stroke="#111" stroke-width="0.95" stroke-linejoin="round"><text x="977.7" y="915.4">Болт</text><text x="977.2" y="944.4" textLength="73.5" lengthAdjust="spacing">М8х25</text></g><line x1="942.2" y1="920.4" x2="1012.2" y2="920.4" stroke="#111" stroke-width="1.5"/><line x1="939.7" y1="949.2" x2="1014.7" y2="949.2" stroke="#111" stroke-width="1.5"/>
<polygon points="1481.4,294.6 1483,296.6 1551.6,238.4 1548.8,234.6" fill="#e11b22"/>
<polygon points="1583.8,205.6 1543.6,226.8 1558.2,243.2" fill="#e11b22"/>
<g font-family="Liberation Sans, Arial, sans-serif" font-size="18.5" fill="#d8232a" text-anchor="middle" transform="rotate(-39.5 1499 213)"><text x="1499" y="219" textLength="142" lengthAdjust="spacingAndGlyphs">Направление</text></g>
<g font-family="Liberation Sans, Arial, sans-serif" font-size="18.5" fill="#d8232a" text-anchor="middle" transform="rotate(-40.5 1521 232)"><text x="1521" y="238.5" textLength="102" lengthAdjust="spacingAndGlyphs">движения</text></g>
<path d="M785.9,889.9 L779.8,901.2 L784.9,916.6 L796.7,921.7 L811.6,982.3 Q818.3,985.6 827,977.7 L803.9,919.2 L810.6,908.9 L805.4,893 L793.1,887.8 L799.3,905.3 L791.1,907.3 Z" fill="#fff" stroke="#0a0a0a" stroke-width="2.4" stroke-linejoin="miter"/>
<ellipse cx="817.8" cy="975" rx="2.5" ry="3" transform="rotate(-20 817.8 975)" fill="#0a0a0a"/>
<line x1="372.5" y1="634.3" x2="479.6" y2="582.4" stroke="#8d8d8d" stroke-width="2.4" stroke-linecap="round"/>
<path d="M324.0,657.4 Q320.4,655.6 324.0,653.8 L359.0,636.4 Q363.5,634.2 368.1,636.0 L375.9,639.1 Q379.6,640.6 376.0,642.4 L340.0,661.1 Q335.6,663.4 331.2,661.1 Z" fill="#7a7a7a" stroke="#6a6a6a" stroke-width="1"/>
<path d="M324.0,655.4 Q320.4,653.6 324.0,651.8 L359.0,634.4 Q363.5,632.2 368.1,634.0 L375.9,637.1 Q379.6,638.6 376.0,640.4 L340.0,659.1 Q335.6,661.4 331.2,659.1 Z" fill="#c9c9c9" stroke="#777" stroke-width="1.1"/>
<line x1="361.5" y1="638.6" x2="370" y2="634.2" stroke="#a8a8a8" stroke-width="3.2" stroke-linecap="round"/>
<ellipse cx="338.4" cy="650" rx="4.6" ry="3" transform="rotate(-26 338.4 650)" fill="#e9e9e9" stroke="#9a9a9a" stroke-width="0.9"/>
<ellipse cx="338" cy="649.4" rx="2" ry="1.3" transform="rotate(-26 338 649.4)" fill="#777"/>
<path d="M279.1,708.4 Q271.3,703.9 263.5,708.4 L261.5,709.6 Q253.7,714.1 261.5,718.6 L422.8,810.8 Q430.6,815.3 438.4,810.8 L440.4,809.6 Q448.2,805.1 440.4,800.6 Z" fill="#6c6c6c" stroke="#5a5a5a" stroke-width="1"/>
<path d="M279.1,705.8 Q271.3,701.3 263.5,705.8 L261.5,707.0 Q253.7,711.5 261.5,716.0 L422.8,808.2 Q430.6,812.7 438.4,808.2 L440.4,807.0 Q448.2,802.5 440.4,798.0 Z" fill="#bfbfbf" stroke="#6a6a6a" stroke-width="1.1"/>
<polygon points="276.3,712.5 271.4,716.3 263.9,715.4 261.3,710.7 266.2,706.9 273.7,707.8" fill="#d9d9d9" stroke="#8a8a8a" stroke-width="1" stroke-linejoin="round"/><polygon points="276.3,708.5 271.4,712.3 263.9,711.4 261.3,706.7 266.2,702.9 273.7,703.8" fill="#ececec" stroke="#8a8a8a" stroke-width="1" stroke-linejoin="round"/><ellipse cx="268.8" cy="707.6" rx="3.4" ry="2.5" fill="#5a5a5a" stroke="#444" stroke-width="0.8"/>
<polygon points="440.3,806.5 435.4,810.3 427.9,809.4 425.3,804.7 430.2,800.9 437.7,801.8" fill="#d9d9d9" stroke="#8a8a8a" stroke-width="1" stroke-linejoin="round"/><polygon points="440.3,802.5 435.4,806.3 427.9,805.4 425.3,800.7 430.2,796.9 437.7,797.8" fill="#ececec" stroke="#8a8a8a" stroke-width="1" stroke-linejoin="round"/><ellipse cx="432.8" cy="801.6" rx="3.4" ry="2.5" fill="#5a5a5a" stroke="#444" stroke-width="0.8"/>
<path d="M261.1,907.2 Q260.2,906.7 261.1,906.2 L285.6,891.6 Q286.5,891.1 287.4,891.6 L416.3,966.2 Q417.2,966.7 416.6,967.5 L401.3,987.3 Q400.7,988.1 399.8,987.6 Z" fill="#aaaaaa" stroke="#5f5f5f" stroke-width="1.2" stroke-linejoin="round"/>
<path d="M255.0,888.0 Q254.7,887.0 255.6,886.5 L280.6,872.7 Q281.5,872.2 281.8,873.2 L286.2,890.1 Q286.5,891.1 285.6,891.6 L261.1,906.2 Q260.2,906.7 259.9,905.7 Z" fill="#9a9a9a" stroke="#5f5f5f" stroke-width="1.2" stroke-linejoin="round"/>
<path d="M231.6,873.2 Q225.6,869.6 231.7,866.1 L242.9,859.7 Q249.0,856.2 255.3,859.3 L280.6,871.8 Q281.5,872.2 280.6,872.7 L255.6,886.5 Q254.7,887.0 253.8,886.5 Z" fill="#b1b1b1" stroke="#5f5f5f" stroke-width="1.2"/>
<rect x="241.2" y="864.4" width="22.4" height="11.6" rx="5.8" transform="rotate(24 252.4 870.2)" fill="#fff" stroke="#555" stroke-width="1.2"/>
<path d="M401.0,987.7 Q400.7,988.1 401.0,987.7 L416.9,967.1 Q417.2,966.7 416.8,967.0 L409.8,973.9 Q409.4,974.2 409.1,974.6 Z" fill="#8e8e8e" stroke="#5f5f5f" stroke-width="1"/>
<path d="M409.8,974.1 Q409.0,973.6 409.9,973.1 L431.9,960.7 Q432.8,960.2 433.7,960.7 L454.5,972.5 Q460.6,976.0 454.7,979.8 L442.3,987.8 Q436.4,991.6 430.5,987.8 Z" fill="#b1b1b1" stroke="#5f5f5f" stroke-width="1.2"/>
<rect x="424.9" y="970.8" width="22.4" height="11.6" rx="5.8" transform="rotate(24 436.1 976.6)" fill="#fff" stroke="#555" stroke-width="1.2"/>
<polygon points="294.1,906.5 288.0,911.2 278.8,910.2 275.5,904.3 281.6,899.6 290.8,900.6" fill="#d9d9d9" stroke="#8a8a8a" stroke-width="1" stroke-linejoin="round"/><polygon points="294.1,902.5 288.0,907.2 278.8,906.2 275.5,900.3 281.6,895.6 290.8,896.6" fill="#ececec" stroke="#8a8a8a" stroke-width="1" stroke-linejoin="round"/><ellipse cx="284.8" cy="901.4" rx="4.2" ry="3.1" fill="#5a5a5a" stroke="#444" stroke-width="0.8"/>
<polygon points="410.9,972.5 404.8,977.2 395.6,976.2 392.3,970.3 398.4,965.6 407.6,966.6" fill="#d9d9d9" stroke="#8a8a8a" stroke-width="1" stroke-linejoin="round"/><polygon points="410.9,968.5 404.8,973.2 395.6,972.2 392.3,966.3 398.4,961.6 407.6,962.6" fill="#ececec" stroke="#8a8a8a" stroke-width="1" stroke-linejoin="round"/><ellipse cx="401.6" cy="967.4" rx="4.2" ry="3.1" fill="#5a5a5a" stroke="#444" stroke-width="0.8"/>
</svg>
</body>
</html>
